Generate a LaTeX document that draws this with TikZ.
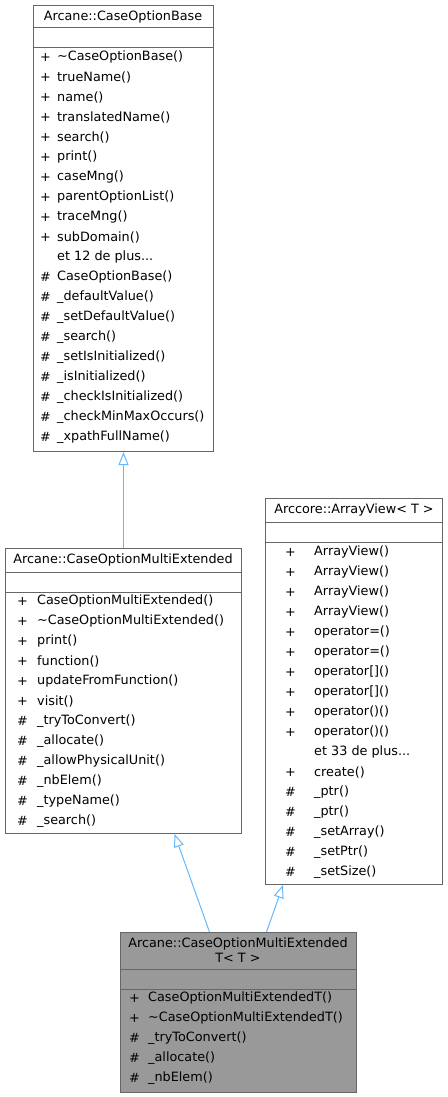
\documentclass[tikz,border=0pt]{standalone}
\usepackage{fontspec}
\setmainfont{DejaVu Sans}
\usetikzlibrary{arrows.meta}
\definecolor{edgeblue}{HTML}{63B8FF}
\definecolor{framegray}{HTML}{666666}
\definecolor{currentgray}{HTML}{999999}
\tikzset{
	classbox/.style={draw=framegray,line width=1pt,anchor=north west,inner sep=0pt},
	vis/.style={anchor=west,inner sep=0pt},
	member/.style={anchor=west,inner sep=0pt},
	title/.style={inner sep=0pt,align=center},
	inherit/.style={draw=edgeblue,line width=1pt,-{Triangle[open,length=13pt,width=10pt]}}
}
% #1 prefix, #2 x of the sign, #3 x of the name, #4 y of first row, #5 rows
\newcommand{\members}[5]
{\foreach \v/\m [count=\i] in {#5}
		{\node[vis] (#1v\i) at (#2,#4+20*\i-20) {\v};
			\node[member] (#1m\i) at (#3,#4+20*\i-20) {\m};
			};
}
% #1 node, #2 y of first rule, #3 y of second rule
\newcommand{\rules}[3]
{\draw[framegray,line width=1pt] (#1.west |- 0,#2) -- (#1.east |- 0,#2);
\draw[framegray,line width=1pt] (#1.west |- 0,#3) -- (#1.east |- 0,#3);
}

\begin{document}
\begin{tikzpicture}[x=1pt,y=-1pt,font=\fontsize{12.8}{15}\selectfont]
\useasboundingbox (0,0) rectangle (447,1097);

% Arcane::CaseOptionBase
\node[classbox,minimum width=180pt,minimum height=446pt] (base) at (33,5) {};
\node[title] (baset) at (123,17) {Arcane::CaseOptionBase};
\rules{base}{28}{48}
\members{base}{40}{57}{57}{+/\textasciitilde CaseOptionBase(),+/trueName(),+/name(),+/translatedName(),+/search(),+/print(),+/caseMng(),+/parentOptionList(),+/traceMng(),+/subDomain(),/{et 12 de plus...},\#/CaseOptionBase(),\#/\_defaultValue(),\#/\_setDefaultValue(),\#/\_search(),\#/\_setIsInitialized(),\#/\_isInitialized(),\#/\_checkIsInitialized(),\#/\_checkMinMaxOccurs(),\#/\_xpathFullName()}

% Arcane::CaseOptionMultiExtended
\node[classbox,minimum width=236pt,minimum height=285pt] (mext) at (5,548) {};
\node[title] (mextt) at (123,560) {Arcane::CaseOptionMultiExtended};
\rules{mext}{572}{592}
\members{mext}{17}{37}{601}{+/CaseOptionMultiExtended(),+/\textasciitilde CaseOptionMultiExtended(),+/print(),+/function(),+/updateFromFunction(),+/visit(),\#/\_tryToConvert(),\#/\_allocate(),\#/\_allowPhysicalUnit(),\#/\_nbElem(),\#/\_typeName(),\#/\_search()}

% Arccore::ArrayView< T >
\node[classbox,minimum width=177pt,minimum height=386pt] (view) at (265,498) {};
\node[title] (viewt) at (354,510) {Arccore::ArrayView< T >};
\rules{view}{522}{542}
\members{view}{285}{314}{552}{+/ArrayView(),+/ArrayView(),+/ArrayView(),+/ArrayView(),+/operator=(),+/operator=(),+/operator[](),+/operator[](),+/operator()(),+/operator()(),/{et 33 de plus...},+/create(),\#/\_ptr(),\#/\_ptr(),\#/\_setArray(),\#/\_setPtr(),\#/\_setSize()}

% Arcane::CaseOptionMultiExtendedT< T >
\node[classbox,fill=currentgray,minimum width=236pt,minimum height=160pt] (mextT) at (120,932) {};
\node[title] (mextTt) at (238,950) {Arcane::CaseOptionMultiExtended\\T< T >};
\rules{mextT}{969}{989}
\members{mextT}{129}{148}{998}{+/CaseOptionMultiExtendedT(),+/\textasciitilde CaseOptionMultiExtendedT(),\#/\_tryToConvert(),\#/\_allocate(),\#/\_nbElem()}

% inheritance
\draw[inherit] (mext.north) -- (base.south);
\draw[inherit] ([xshift=-29pt]mextT.north) -- ([xshift=51pt]mext.south);
\draw[inherit] ([xshift=28pt]mextT.north) -- ([xshift=-71pt]view.south);
\end{tikzpicture}
\end{document}
